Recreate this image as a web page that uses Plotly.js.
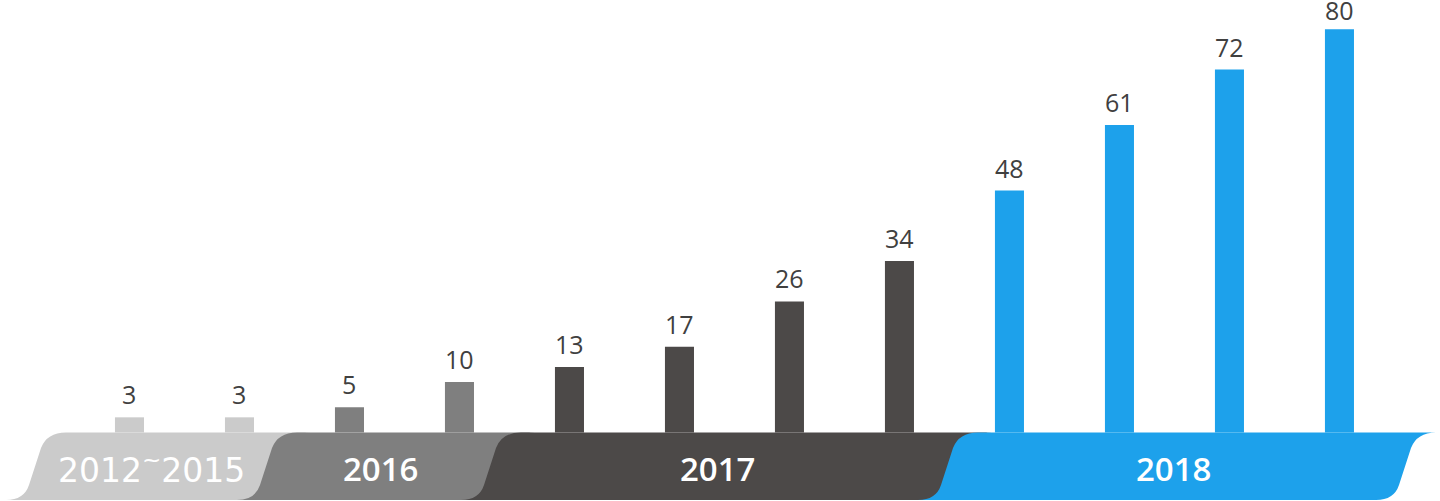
<!DOCTYPE html>
<html>
<head>
<meta charset="utf-8">
<script src="https://cdn.plot.ly/plotly-3.0.1.min.js"></script>
<style>
  html, body { margin: 0; padding: 0; background: #ffffff; }
  #chart { width: 1440px; height: 501px; }
</style>
</head>
<body>
<div id="chart"></div>
<script>
// ---- data ----
const values = [3, 3, 5, 10, 13, 17, 26, 34, 48, 61, 72, 80];
const groups = ['2012~2015', '2012~2015', '2016', '2016', '2017', '2017', '2017', '2017', '2018', '2018', '2018', '2018'];
const bandLabels = ['2012~2015', '2016', '2017', '2018'];
const bandLabelText = ['2012<sup>~</sup>2015', '2016', '2017', '2018'];
const bandColors = ['#cbcbcb', '#7f7f7f', '#4c4948', '#1da1eb'];

// ---- layout constants ----
const W = 1440, H = 501;
const xRange = [-1.177, 11.914];
const yRange = [-13.6, 85.8];
const pxX = W / (xRange[1] - xRange[0]);   // px per x unit
const pxY = H / (yRange[1] - yRange[0]);   // px per y unit
const ux = p => p / pxX;
const uy = p => p / pxY;
const toX = px => xRange[0] + px / pxX;
// left-bottom x of each band edge (screen px), last = right edge of final band
const bandEdgesPx = [6, 237, 461, 918, 1376];
const labelOffsetPx = [30, 31, 28, 26];
const yBottom = -13.4;

const barIdx = values.map((_, i) => i);
const barColors = groups.map(g => bandColors[bandLabels.indexOf(g)]);

function pt(x, y) { return x.toFixed(4) + ',' + y.toFixed(4); }
function bandPath(x0, x1) {
  const yb = yBottom;
  const y485 = yb + uy(15), y448 = yb + uy(52);
  let p = 'M ' + pt(x0, yb);
  p += ' Q ' + pt(x0 + ux(18), yb) + ' ' + pt(x0 + ux(23), y485);
  p += ' L ' + pt(x0 + ux(35), y448);
  p += ' Q ' + pt(x0 + ux(41), 0) + ' ' + pt(x0 + ux(60), 0);
  p += ' L ' + pt(x1 + ux(60), 0);
  p += ' Q ' + pt(x1 + ux(41), 0) + ' ' + pt(x1 + ux(35), y448);
  p += ' L ' + pt(x1 + ux(23), y485);
  p += ' Q ' + pt(x1 + ux(18), yb) + ' ' + pt(x1, yb);
  p += ' Z';
  return p;
}

const shapes = [];
const annotations = [];
for (let b = 0; b < bandLabels.length; b++) {
  const x0 = toX(bandEdgesPx[b]);
  const last = b === bandLabels.length - 1;
  const x1 = toX(bandEdgesPx[b + 1] + (last ? 0 : 14));
  shapes.push({
    type: 'path', xref: 'x', yref: 'y', layer: 'below',
    path: bandPath(x0, x1), fillcolor: bandColors[b], line: { width: 0 }
  });
  const xc = (toX(bandEdgesPx[b]) + toX(bandEdgesPx[b + 1])) / 2 + ux(labelOffsetPx[b]);
  annotations.push({
    x: xc, y: -7.1, xref: 'x', yref: 'y', text: bandLabelText[b], showarrow: false,
    xanchor: 'center', yanchor: 'middle',
    font: b === 0
      ? { family: 'DejaVu Sans, sans-serif', size: 33, color: '#ffffff' }
      : { family: 'Open Sans, sans-serif', size: 33, color: '#ffffff', weight: 600 }
  });
}

// value labels above bars (kept inside the top edge)
values.forEach((v, i) => {
  const topPx = (yRange[1] - v) * pxY;
  annotations.push({
    x: barIdx[i], y: v, xref: 'x', yref: 'y', text: String(v), showarrow: false,
    xanchor: 'center', yanchor: 'bottom', yshift: Math.min(4, topPx - 29),
    font: { family: 'Open Sans, sans-serif', size: 25, color: '#404040' }
  });
});

const trace = {
  type: 'bar', x: barIdx, y: values, width: 0.264,
  marker: { color: barColors, line: { width: 0 } },
  hoverinfo: 'none'
};

const layout = {
  width: W, height: H,
  margin: { l: 0, r: 0, t: 0, b: 0, pad: 0 },
  paper_bgcolor: '#ffffff', plot_bgcolor: '#ffffff',
  showlegend: false, hovermode: false,
  xaxis: { range: xRange, visible: false, fixedrange: true },
  yaxis: { range: yRange, visible: false, fixedrange: true },
  shapes: shapes, annotations: annotations
};

Plotly.newPlot('chart', [trace], layout, { displayModeBar: false, staticPlot: true });
</script>
</body>
</html>
